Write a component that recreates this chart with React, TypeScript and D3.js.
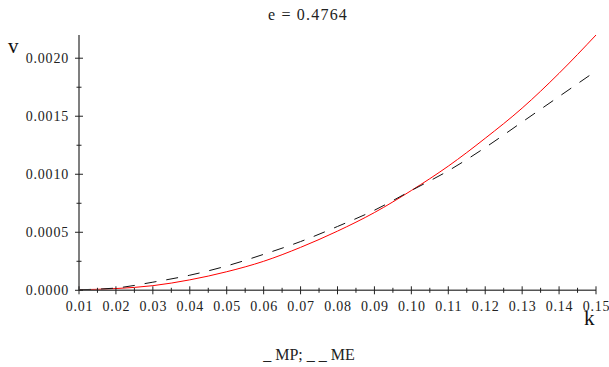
import React from "react";
import * as d3 from "d3";

const kValues = [0.01, 0.02, 0.03, 0.04, 0.05, 0.06, 0.07, 0.08, 0.09, 0.10, 0.11, 0.12, 0.13, 0.14, 0.15];
const mpValues = [0.000005, 0.000015, 0.00004, 0.00009, 0.00016, 0.00025, 0.00037, 0.00051, 0.00067, 0.00086, 0.00107, 0.00131, 0.00157, 0.00187, 0.0022];
const meValues = [0.000005, 0.00002, 0.00007, 0.00013, 0.00021, 0.00031, 0.00042, 0.00055, 0.00069, 0.00086, 0.00103, 0.00123, 0.00145, 0.00167, 0.00189];
const xTicks = [0.01, 0.02, 0.03, 0.04, 0.05, 0.06, 0.07, 0.08, 0.09, 0.10, 0.11, 0.12, 0.13, 0.14, 0.15];
const yTicks = [0, 0.0005, 0.001, 0.0015, 0.002];
const title = "e = 0.4764";
const legendText = "_ MP; _ _ ME";

const W = 609;
const H = 367;
const left = 79;
const right = 596;
const top = 35;
const bottom = 290.3;

export default function App() {
  const x = d3.scaleLinear().domain([0.01, 0.15]).range([left, right]);
  const y = d3.scaleLinear().domain([0, 0.0022]).range([bottom, top]);
  const line = d3
    .line<number>()
    .x((_, i) => x(kValues[i]))
    .y((d) => y(d))
    .curve(d3.curveMonotoneX);

  const xMinor = d3.range(0, 14).map((i) => 0.015 + i * 0.01);
  const yMinor = [0.00025, 0.00075, 0.00125, 0.00175];
  const fs = { fontFamily: "'Liberation Serif', 'Times New Roman', Times, serif" };
  const axisColor = "#555";

  return (
    <svg width={W} height={H} style={{ position: "absolute", left: 0, top: 0, background: "#fff" }}>
      <text x={308} y={20} textAnchor="middle" fontSize={16} fill="#222" letterSpacing={1.2} style={fs}>{title}</text>
      <text x={8} y={53} fontSize={21} fill="#111" style={fs}>v</text>
      <text x={584} y={325} fontSize={21} fill="#111" style={fs}>k</text>
      <text x={309} y={360} textAnchor="middle" fontSize={16} fill="#222" style={fs}>{legendText}</text>

      <path d={line(mpValues) || ""} fill="none" stroke="#ff0000" strokeWidth={1} />
      <path d={line(meValues) || ""} fill="none" stroke="#111" strokeWidth={1} strokeDasharray="12,10" />

      <line x1={left} x2={left} y1={top} y2={bottom} stroke={axisColor} strokeWidth={1.5} />
      <line x1={left} x2={right} y1={bottom} y2={bottom} stroke={axisColor} strokeWidth={1.5} />

      {yTicks.map((t) => (
        <g key={"y" + t}>
          <line x1={left - 4} x2={left + 4} y1={y(t)} y2={y(t)} stroke="#222" strokeWidth={1} />
          <text x={69} y={y(t) + 5} textAnchor="end" fontSize={14} fill="#222" letterSpacing={0.8} style={fs}>
            {t.toFixed(4)}
          </text>
        </g>
      ))}
      {yMinor.map((t) => (
        <line key={"ym" + t} x1={left - 2.5} x2={left + 2.5} y1={y(t)} y2={y(t)} stroke="#222" strokeWidth={1} />
      ))}
      {xTicks.map((t) => (
        <g key={"x" + t}>
          <line x1={x(t)} x2={x(t)} y1={bottom - 4} y2={bottom + 4} stroke="#222" strokeWidth={1} />
          <text x={x(t) + 0.5} y={311} textAnchor="middle" fontSize={14} fill="#222" letterSpacing={0.8} style={fs}>
            {t.toFixed(2)}
          </text>
        </g>
      ))}
      {xMinor.map((t) => (
        <line key={"xm" + t} x1={x(t)} x2={x(t)} y1={bottom - 2.5} y2={bottom + 2.5} stroke="#222" strokeWidth={1} />
      ))}
    </svg>
  );
}
